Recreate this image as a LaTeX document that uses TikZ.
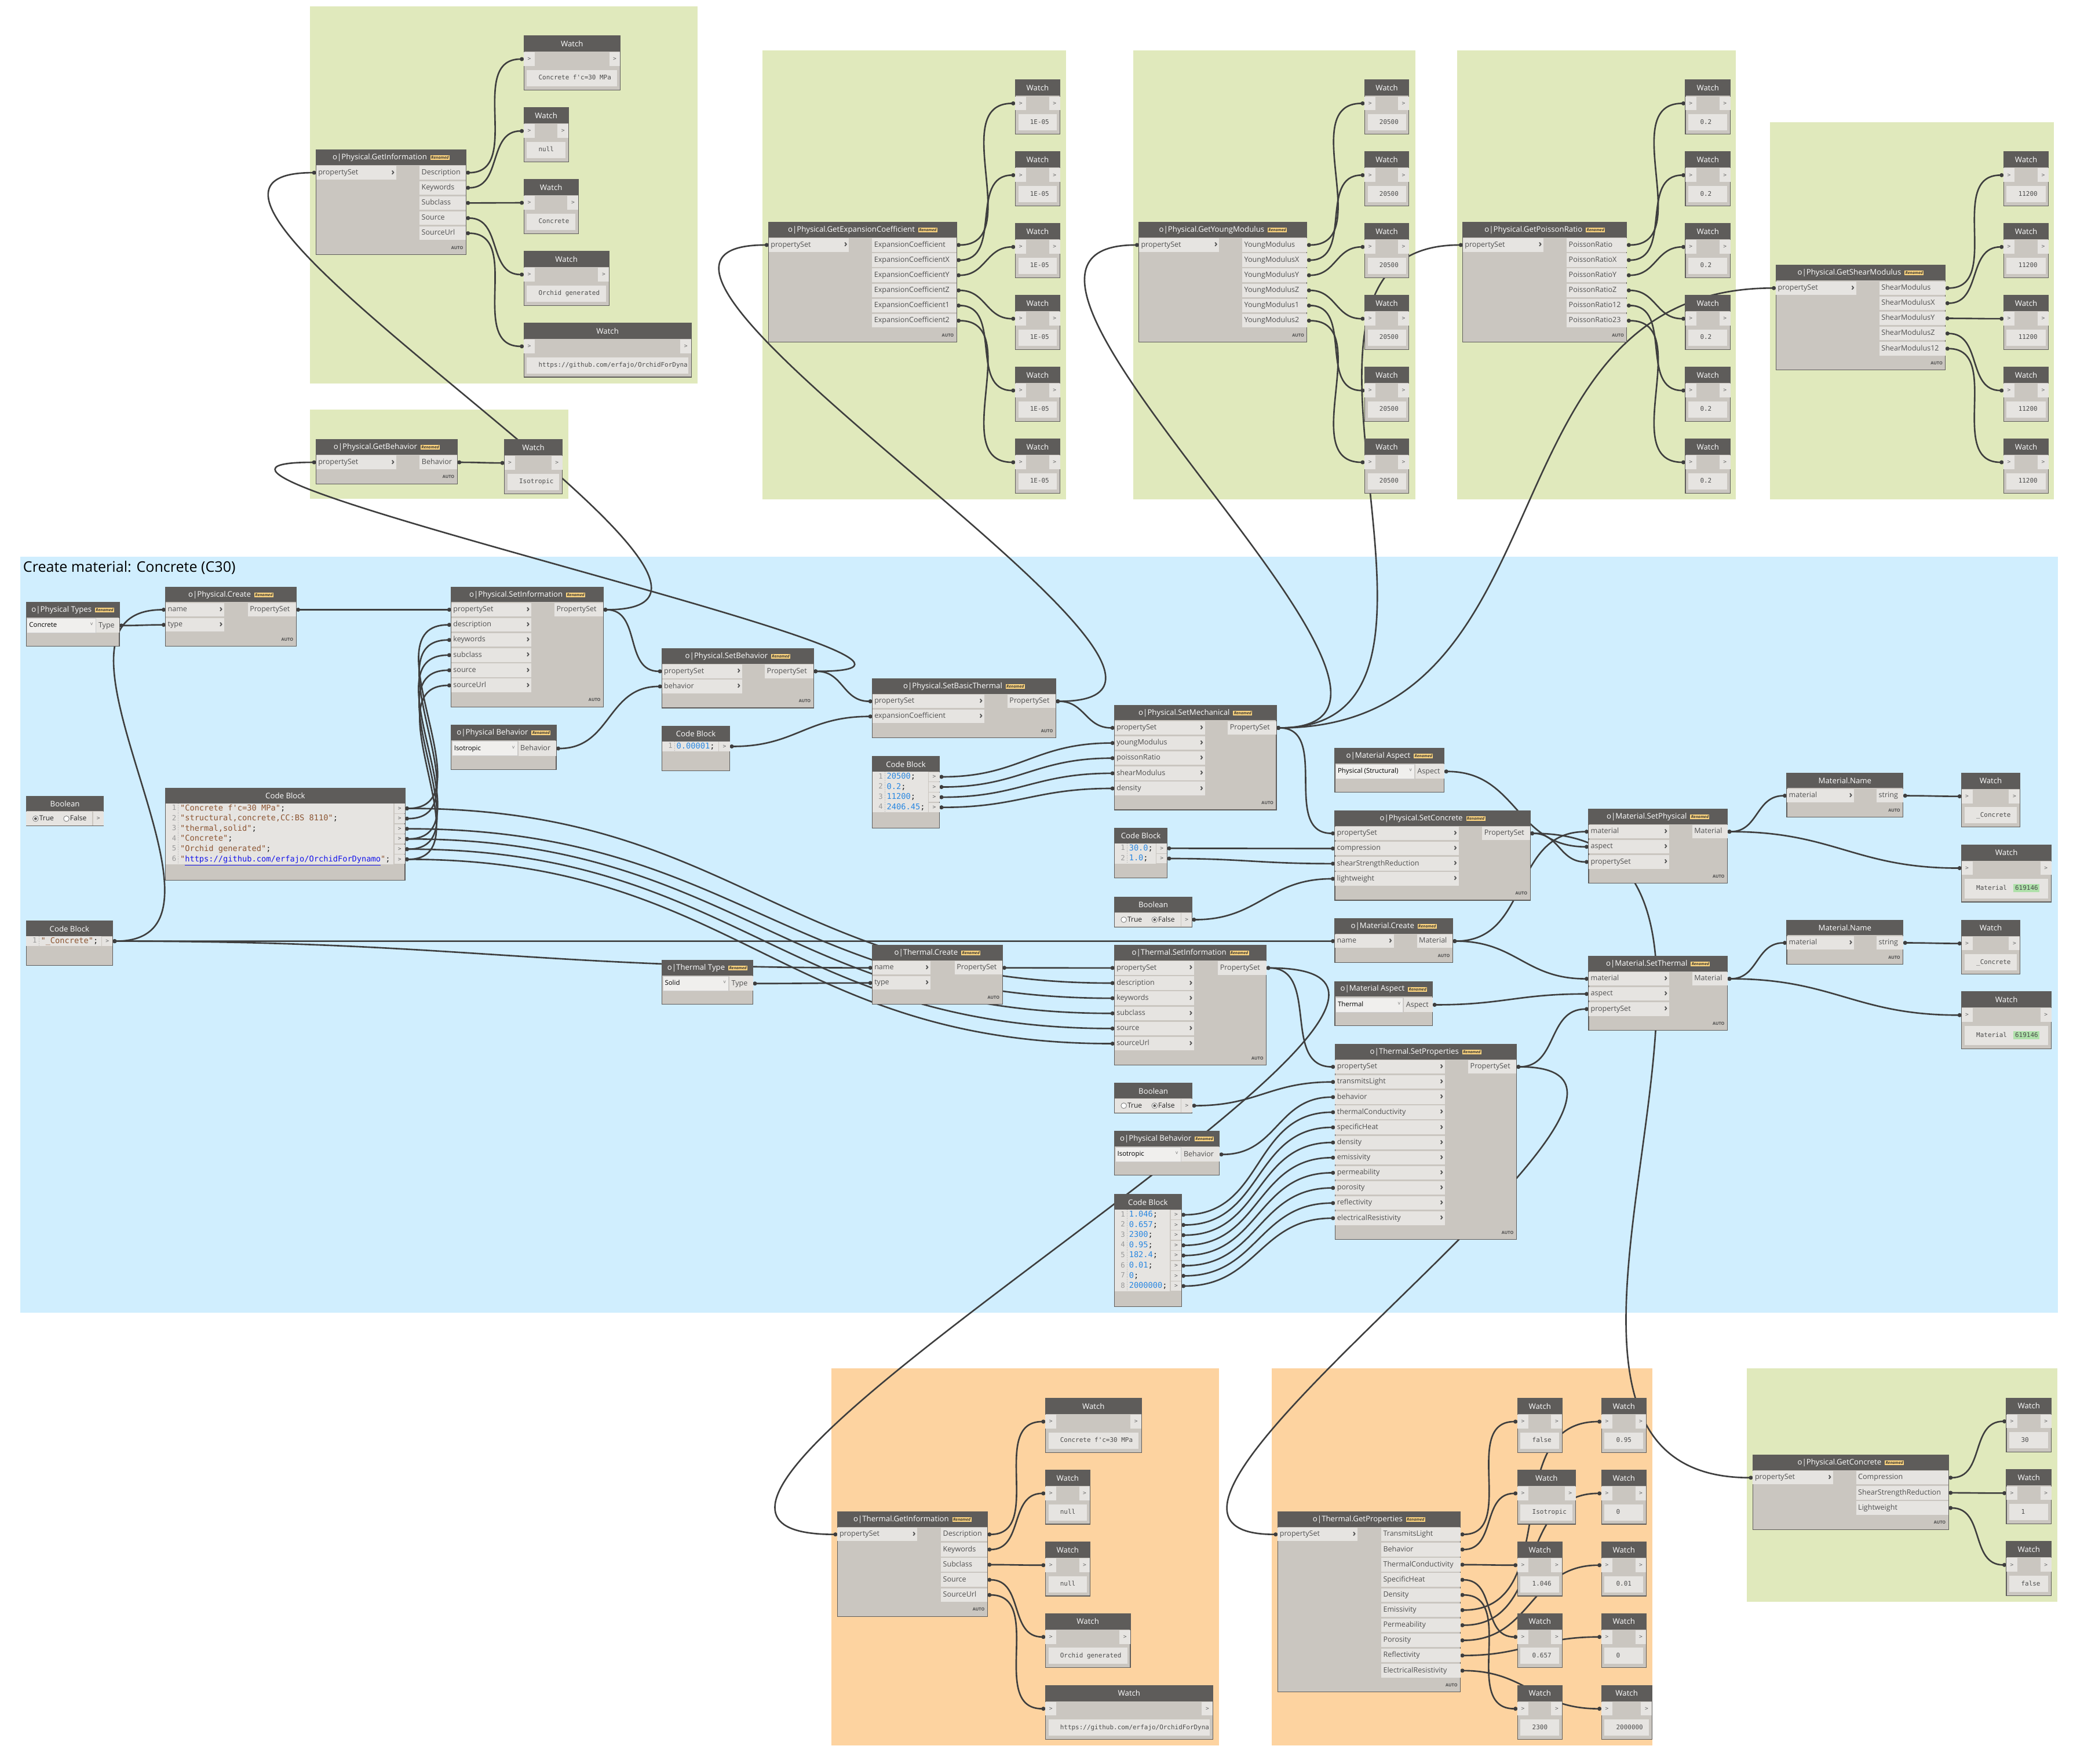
\documentclass[tikz,border=0pt]{standalone}
\usepackage{fontspec}
\setmainfont{Open Sans}
\newfontfamily\codefont{DejaVu Sans Mono}
\usetikzlibrary{calc,arrows.meta}

\definecolor{titlebar}{RGB}{94,92,90}
\definecolor{nodebody}{RGB}{202,198,192}
\definecolor{portbg}{RGB}{230,228,225}
\definecolor{dropbg}{RGB}{240,239,237}
\definecolor{portfg}{RGB}{80,80,80}
\definecolor{wirecol}{RGB}{62,62,62}
\definecolor{grpgreen}{RGB}{224,233,188}
\definecolor{grpblue}{RGB}{208,238,254}
\definecolor{grporange}{RGB}{253,211,160}
\definecolor{badgecol}{RGB}{255,214,128}
\definecolor{strcol}{RGB}{140,85,50}
\definecolor{numcol}{RGB}{40,135,225}
\definecolor{linkcol}{RGB}{20,20,235}
\definecolor{valgreen}{RGB}{175,225,170}

\pgfdeclarelayer{groups}
\pgfdeclarelayer{wires}
\pgfsetlayers{groups,wires,main}

\tikzset{
  body/.style={fill=nodebody,draw=titlebar,line width=0.5pt},
  bar/.style={fill=titlebar},
  portbox/.style={fill=portbg},
  dropbox/.style={fill=dropbg,draw=black!20,line width=0.3pt},
  titletext/.style={text=white,inner sep=0pt,font=\fontsize{5.8}{6}\selectfont},
  grouptitle/.style={inner sep=0pt,font=\fontsize{11}{13}\selectfont},
  portlabel/.style={text=portfg,inner sep=1.4pt,text height=4pt,text depth=1.2pt,font=\fontsize{5.5}{6}\selectfont},
  chev/.style={text=portfg,inner sep=1pt,font=\fontsize{7}{7}\selectfont\bfseries},
  autotext/.style={text=black!70,inner sep=0pt,font=\fontsize{3.2}{3}\selectfont\bfseries},
  smallgt/.style={text=black!60,inner sep=0pt,font=\codefont\fontsize{4.2}{4}\selectfont},
  watchtext/.style={text=black!70,inner sep=0pt,text height=3.6pt,text depth=1pt,font=\codefont\fontsize{4.8}{5}\selectfont},
  codetext/.style={text=black!85,inner sep=0pt,text height=4.4pt,text depth=1.2pt,font=\codefont\fontsize{6}{6}\selectfont},
  lineno/.style={text=black!40,inner sep=0pt,text height=4pt,text depth=1.2pt,font=\codefont\fontsize{5.4}{6}\selectfont},
  droptext/.style={text=black,inner sep=0pt,text height=3.8pt,text depth=1.1pt,font=\fontsize{5}{6}\selectfont},
  dropv/.style={text=black!55,inner sep=0pt,font=\fontsize{3.6}{4}\selectfont},
  booltext/.style={text=black!85,inner sep=0pt,text height=3.9pt,text depth=1.1pt,font=\fontsize{5.3}{6}\selectfont},
  radio/.style={fill=white,draw=black!55,line width=0.35pt},
  wire/.style={draw=wirecol,line width=1.15pt,arrows={Circle[length=3pt]-Circle[length=3pt]}},
}

\newcommand{\ren}{\hspace{2.6pt}\raisebox{0.4pt}{\fboxsep=0.6pt\colorbox{badgecol}{\fontsize{3}{3}\selectfont\bfseries\itshape\color{black!80}Renamed}}}
\newcommand{\cstr}[1]{\textcolor{strcol}{#1}}
\newcommand{\cnum}[1]{\textcolor{numcol}{#1}}

% node with lacing: name, x, y, width, rows, title
\newcommand{\dnode}[6]{%
  \coordinate (#1) at (#2,{#3});
  \coordinate (#1-r) at ({#2+#4},{#3});
  \path[body] (#2,{#3}) rectangle ({#2+#4},{#3+11.5+#5*11.45+10.5});
  \path[bar] (#2,{#3}) rectangle ({#2+#4},{#3+11.5});
  \node[titletext] at ({#2+#4/2},{#3+5.9}) {#6};
  \node[autotext,anchor=east] at ({#2+#4-2},{#3+11.5+#5*11.45+5.2}) {AUTO};
}
% inputs: node, label box width, labels
\newcommand{\dins}[3]{%
  \foreach \lab [count=\i] in {#3} {
    \path[portbox] ($(#1)+(0,{11.5+(\i-1)*11.45+0.6})$) rectangle ($(#1)+(#2,{11.5+\i*11.45-0.6})$);
    \coordinate (#1-i\i) at ($(#1)+(0,{11.5+(\i-0.5)*11.45})$);
    \node[portlabel,anchor=west] at (#1-i\i) {\lab};
    \node[chev,anchor=east] at ($(#1-i\i)+(#2,0)$) {\symbol{"203A}};
  }}
% outputs: node, label box width, labels
\newcommand{\douts}[3]{%
  \foreach \lab [count=\i] in {#3} {
    \path[portbox] ($(#1-r)+(-#2,{11.5+(\i-1)*11.45+0.6})$) rectangle ($(#1-r)+(0,{11.5+\i*11.45-0.6})$);
    \coordinate (#1-o\i) at ($(#1-r)+(0,{11.5+(\i-0.5)*11.45})$);
    \node[portlabel,anchor=west] at ($(#1-o\i)+(-#2,0)$) {\lab};
  }}
% watch: [height] name, x, y, width, value
\newcommand{\watch}[6][41]{%
  \path[body] (#3,{#4}) rectangle ({#3+#5},{#4+#1});
  \path[bar] (#3,{#4}) rectangle ({#3+#5},{#4+12});
  \node[titletext] at ({#3+#5/2},{#4+6}) {Watch};
  \path[portbox] (#3,{#4+12.5}) rectangle ({#3+8.3},{#4+22.9});
  \path[portbox] ({#3+#5-8.3},{#4+12.5}) rectangle ({#3+#5},{#4+22.9});
  \node[smallgt] at ({#3+4.1},{#4+17.7}) {>};
  \node[smallgt] at ({#3+#5-4.1},{#4+17.7}) {>};
  \path[portbox] ({#3+2.3},{#4+25.9}) rectangle ({#3+#5-2.3},{#4+#1-2.8});
  \node[watchtext,anchor=west] at ({#3+11},{#4+(#1+23.1)/2}) {#6};
  \coordinate (#2) at (#3,{#4+17.7});
}
% dropdown: name, x, y, width, dropdown width, title, value, output
\newcommand{\dropnode}[8]{%
  \path[body] (#2,{#3}) rectangle ({#2+#4},{#3+33.5});
  \path[bar] (#2,{#3}) rectangle ({#2+#4},{#3+11.5});
  \node[titletext] at ({#2+#4/2},{#3+5.9}) {#6};
  \path[dropbox] ({#2+0.6},{#3+12.2}) rectangle ({#2+#5},{#3+23.2});
  \node[droptext,anchor=west] at ({#2+2},{#3+17.7}) {#7};
  \node[dropv] at ({#2+#5-3},{#3+16.8}) {v};
  \path[portbox] ({#2+#5+0.6},{#3+12.2}) rectangle ({#2+#4},{#3+23.2});
  \node[portlabel,anchor=west] at ({#2+#5+0.6},{#3+17.9}) {#8};
  \coordinate (#1-o) at ({#2+#4},{#3+17.7});
}
% boolean: name, x, y, width, 1 = True
\newcommand{\boolnode}[5]{%
  \path[body] (#2,{#3}) rectangle ({#2+#4},{#3+22.6});
  \path[bar] (#2,{#3}) rectangle ({#2+#4},{#3+11.5});
  \node[titletext] at ({#2+#4/2},{#3+5.9}) {Boolean};
  \path[portbox] (#2,{#3+11.9}) rectangle ({#2+#4-8.6},{#3+22.3});
  \path[portbox] ({#2+#4-8},{#3+11.9}) rectangle ({#2+#4},{#3+22.3});
  \node[smallgt] at ({#2+#4-4},{#3+17.1}) {>};
  \draw[radio] ({#2+7},{#3+17.1}) circle (2.1pt);
  \node[booltext,anchor=west] at ({#2+9.6},{#3+17.3}) {True};
  \draw[radio] ({#2+30.3},{#3+17.1}) circle (2.1pt);
  \node[booltext,anchor=west] at ({#2+32.9},{#3+17.3}) {False};
  \fill[titlebar] ({#2+ifthenelse(#5==1,7,30.3)},{#3+17.1}) circle (1.1pt);
  \coordinate (#1-o) at ({#2+#4},{#3+17.1});
}
% code block: name, x, y, width, height, lines
\newcommand{\codeblock}[6]{%
  \path[body] (#2,{#3}) rectangle ({#2+#4},{#3+#5});
  \path[bar] (#2,{#3}) rectangle ({#2+#4},{#3+11.5});
  \node[titletext] at ({#2+#4/2},{#3+5.9}) {Code Block};
  \foreach \ctext [count=\i] in {#6} {
    \path[portbox] (#2,{#3+11.5+(\i-1)*7.7}) rectangle ({#2+#4-8.6},{#3+11.5+\i*7.7});
    \path[portbox] ({#2+#4-8},{#3+11.8+(\i-1)*7.7}) rectangle ({#2+#4},{#3+11.2+\i*7.7});
    \draw[densely dotted,black!35,line width=0.3pt] ({#2+9.4},{#3+11.5+(\i-1)*7.7}) -- ({#2+9.4},{#3+11.5+\i*7.7});
    \node[lineno,anchor=east] at ({#2+8.2},{#3+15.35+(\i-1)*7.7}) {\i};
    \node[codetext,anchor=west] at ({#2+10.8},{#3+15.35+(\i-1)*7.7}) {\ctext};
    \node[smallgt] at ({#2+#4-4},{#3+15.35+(\i-1)*7.7}) {>};
    \coordinate (#1-o\i) at ({#2+#4},{#3+15.35+(\i-1)*7.7});
  }}
% connector
\newcommand{\wire}[2]{%
  \draw[wire] let \p1=(#1), \p2=(#2), \n1={0.45*veclen(\x2-\x1,\y2-\y1)} in
    (\p1) .. controls +(\n1,0) and +(-\n1,0) .. (\p2);}

\begin{document}
\begin{tikzpicture}[x=1pt,y=-1pt]
\useasboundingbox (0,0) rectangle (1568,1334);

\begin{pgfonlayer}{groups}
\fill[white] (0,0) rectangle (1568,1334);
\fill[grpgreen] (234.4,4.9) rectangle (527.6,290.2);
\fill[grpgreen] (234.4,309.9) rectangle (429.8,377.5);
\fill[grpgreen] (576.7,38.2) rectangle (806.3,377.6);
\fill[grpgreen] (857.2,38.2) rectangle (1070.4,377.6);
\fill[grpgreen] (1102.2,38.2) rectangle (1313,377.6);
\fill[grpgreen] (1338.7,92.5) rectangle (1553.5,377.6);
\fill[grpblue] (15.4,421.3) rectangle (1556.4,993);
\fill[grporange] (628.9,1034.9) rectangle (921.9,1320.2);
\fill[grporange] (962,1034.9) rectangle (1249.7,1320.2);
\fill[grpgreen] (1321.3,1035) rectangle (1556.1,1211.7);
\end{pgfonlayer}

% information and behavior checks
\dnode{getinfo}{239.1}{113.4}{113.4}{5}{o|Physical.GetInformation\ren}
\dins{getinfo}{60.6}{propertySet}
\douts{getinfo}{35.2}{Description,Keywords,Subclass,Source,SourceUrl}
\watch{wgi1}{396.2}{27}{72.9}{Concrete f'c=30 MPa}
\watch{wgi2}{396.2}{81.4}{33.8}{null}
\watch{wgi3}{396.2}{135.7}{41.3}{Concrete}
\watch{wgi4}{396.2}{190}{64.5}{Orchid generated}
\watch{wgi5}{396.2}{244.3}{126.7}{https://github.com/erfajo/OrchidForDyna}
\dnode{getbeh}{239.1}{332.5}{106.8}{1}{o|Physical.GetBehavior\ren}
\dins{getbeh}{60.6}{propertySet}
\douts{getbeh}{28.5}{Behavior}
\watch{wgb}{381.5}{332.5}{43.8}{Isotropic}

% mechanical checks
\dnode{getexp}{581.4}{168.1}{142.2}{6}{o|Physical.GetExpansionCoefficient\ren}
\dins{getexp}{60.8}{propertySet}
\douts{getexp}{64}{ExpansionCoefficient,ExpansionCoefficientX,ExpansionCoefficientY,ExpansionCoefficientZ,ExpansionCoefficient1,ExpansionCoefficient2}
\dnode{getyoung}{861.5}{168.1}{127.1}{6}{o|Physical.GetYoungModulus\ren}
\dins{getyoung}{60.7}{propertySet}
\douts{getyoung}{49}{YoungModulus,YoungModulusX,YoungModulusY,YoungModulusZ,YoungModulus1,YoungModulus2}
\dnode{getpois}{1106.4}{168.1}{124.1}{6}{o|Physical.GetPoissonRatio\ren}
\dins{getpois}{61.1}{propertySet}
\douts{getpois}{45.5}{PoissonRatio,PoissonRatioX,PoissonRatioY,PoissonRatioZ,PoissonRatio12,PoissonRatio23}
\dnode{getshear}{1343.2}{200.7}{128.3}{5}{o|Physical.GetShearModulus\ren}
\dins{getshear}{60.8}{propertySet}
\douts{getshear}{50}{ShearModulus,ShearModulusX,ShearModulusY,ShearModulusZ,ShearModulus12}
\foreach \k in {1,...,6} {
  \watch{wex\k}{767.9}{60.5+54.3*(\k-1)}{33.9}{1E-05}
  \watch{wym\k}{1032.2}{60.5+54.3*(\k-1)}{33.5}{20500}
  \watch{wpr\k}{1274.8}{60.5+54.3*(\k-1)}{34}{0.2}
}
\foreach \k in {1,...,5} {\watch{wsm\k}{1515.5}{114.8+54.3*(\k-1)}{34}{11200}}

% create material
\node[grouptitle,anchor=west] (grptitle) at (17.3,429.6) {Create material: Concrete (C30)};
\dropnode{ptypes}{19.9}{455.5}{70.4}{52.4}{o|Physical Types\ren}{Concrete}{Type}
\dnode{pcreate}{125.3}{444}{98.7}{2}{o|Physical.Create\ren}
\dins{pcreate}{44.4}{name,type}
\douts{pcreate}{36.6}{PropertySet}
\dnode{psetinfo}{341.3}{444}{115.1}{6}{o|Physical.SetInformation\ren}
\dins{psetinfo}{60.7}{propertySet,description,keywords,subclass,source,sourceUrl}
\douts{psetinfo}{37}{PropertySet}
\dropnode{pbeh}{341.3}{548.5}{79.4}{50.1}{o|Physical Behavior\ren}{Isotropic}{Behavior}
\boolnode{bool1}{19.9}{602.2}{58.5}{1}
\codeblock{cbinfo}{125.3}{596.2}{181}{69.6}{{\cstr{"Concrete f'c=30 MPa"};},{\cstr{"structural,concrete,CC:BS 8110"};},{\cstr{"thermal,solid"};},{\cstr{"Concrete"};},{\cstr{"Orchid generated"};},{\cstr{"}\textcolor{linkcol}{\underline{https://github.com/erfajo/OrchidForDynamo}}\cstr{"};}}
\codeblock{cbname}{19.9}{696.6}{65.3}{33.6}{{\cstr{"\_Concrete"};}}
\dnode{psetbeh}{500.7}{490.6}{114.7}{2}{o|Physical.SetBehavior\ren}
\dins{psetbeh}{60.7}{propertySet,behavior}
\douts{psetbeh}{36.9}{PropertySet}
\codeblock{cbexp}{500.7}{549.3}{51.3}{33.6}{{\cnum{0.00001};}}
\dnode{psetbt}{659.8}{513.3}{138.8}{2}{o|Physical.SetBasicThermal\ren}
\dins{psetbt}{84.8}{propertySet,expansionCoefficient}
\douts{psetbt}{36.6}{PropertySet}
\codeblock{cbmech}{659.8}{572.3}{50.8}{54.1}{{\cnum{20500};},{\cnum{0.2};},{\cnum{11200};},{\cnum{2406.45};}}
\dnode{psetmech}{843}{533.4}{122.4}{5}{o|Physical.SetMechanical\ren}
\dins{psetmech}{68.4}{propertySet,youngModulus,poissonRatio,shearModulus,density}
\douts{psetmech}{36.7}{PropertySet}
\dropnode{maspphys}{1009.7}{565.9}{82.7}{60.2}{o|Material Aspect\ren}{Physical (Structural)}{Aspect}
\codeblock{cbconc}{843}{626.4}{39.8}{37.9}{{\cnum{30.0};},{\cnum{1.0};}}
\boolnode{bool2}{843}{678.6}{58.6}{0}
\dnode{psetconc}{1009.7}{613.2}{147.7}{4}{o|Physical.SetConcrete\ren}
\dins{psetconc}{93.6}{propertySet,compression,shearStrengthReduction,lightweight}
\douts{psetconc}{36.3}{PropertySet}
\dnode{mcreate}{1009.7}{694.7}{89.1}{1}{o|Material.Create\ren}
\dins{mcreate}{44.6}{name}
\douts{mcreate}{27.1}{Material}
\dnode{msetphys}{1201.6}{611.9}{105}{3}{o|Material.SetPhysical\ren}
\dins{msetphys}{60.9}{material,aspect,propertySet}
\douts{msetphys}{26.7}{Material}
\dnode{mname1}{1351.5}{584.7}{88}{1}{Material.Name}
\dins{mname1}{50.9}{material}
\douts{mname1}{20.1}{string}
\watch{wmn1}{1483.7}{584.7}{44.1}{\_Concrete}
\watch[43.3]{wmat1}{1483.7}{639}{67.9}{Material\hspace{5pt}{\fboxsep=1.2pt\colorbox{valgreen}{619146}}}
\dnode{msetth}{1201.6}{723.2}{105}{3}{o|Material.SetThermal\ren}
\dins{msetth}{60.9}{material,aspect,propertySet}
\douts{msetth}{26.7}{Material}
\dnode{mname2}{1351.5}{696}{88}{1}{Material.Name}
\dins{mname2}{50.9}{material}
\douts{mname2}{20.1}{string}
\watch{wmn2}{1483.7}{696}{44.1}{\_Concrete}
\watch[43.3]{wmat2}{1483.7}{750.2}{67.9}{Material\hspace{5pt}{\fboxsep=1.2pt\colorbox{valgreen}{619146}}}
\dropnode{maspth}{1009.7}{742.4}{73.9}{51.6}{o|Material Aspect\ren}{Thermal}{Aspect}
\dropnode{ttype}{500.7}{726.3}{68.8}{50.4}{o|Thermal Type\ren}{Solid}{Type}
\dnode{tcreate}{659.8}{714.9}{98.4}{2}{o|Thermal.Create\ren}
\dins{tcreate}{44}{name,type}
\douts{tcreate}{36.1}{PropertySet}
\dnode{tsetinfo}{843}{715}{114.8}{6}{o|Thermal.SetInformation\ren}
\dins{tsetinfo}{60.3}{propertySet,description,keywords,subclass,source,sourceUrl}
\douts{tsetinfo}{36.6}{PropertySet}
\dnode{tsetprop}{1009.8}{789.8}{137.2}{11}{o|Thermal.SetProperties\ren}
\dins{tsetprop}{83.1}{propertySet,transmitsLight,behavior,thermalConductivity,specificHeat,density,emissivity,permeability,porosity,reflectivity,electricalResistivity}
\douts{tsetprop}{36.5}{PropertySet}
\boolnode{bool3}{843}{819.3}{58.7}{0}
\dropnode{pbeh2}{843}{855.6}{79.3}{50.1}{o|Physical Behavior\ren}{Isotropic}{Behavior}
\codeblock{cbtherm}{843}{903.6}{50.6}{84.8}{{\cnum{1.046};},{\cnum{0.657};},{\cnum{2300};},{\cnum{0.95};},{\cnum{182.4};},{\cnum{0.01};},{\cnum{0};},{\cnum{2000000};}}

% thermal checks
\dnode{tgetinfo}{633.4}{1143.5}{113.5}{5}{o|Thermal.GetInformation\ren}
\dins{tgetinfo}{60.5}{propertySet}
\douts{tgetinfo}{35.2}{Description,Keywords,Subclass,Source,SourceUrl}
\watch{wti1}{790.7}{1057.7}{72.7}{Concrete f'c=30 MPa}
\watch{wti2}{790.7}{1112}{33.8}{null}
\watch{wti3}{790.7}{1166.3}{33.8}{null}
\watch{wti4}{790.7}{1220.6}{64.3}{Orchid generated}
\watch{wti5}{790.7}{1274.9}{126.7}{https://github.com/erfajo/OrchidForDyna}
\dnode{tgetprop}{966.4}{1143.5}{138.2}{10}{o|Thermal.GetProperties\ren}
\dins{tgetprop}{60.5}{propertySet}
\douts{tgetprop}{59.9}{TransmitsLight,Behavior,ThermalConductivity,SpecificHeat,Density,Emissivity,Permeability,Porosity,Reflectivity,ElectricalResistivity}
\watch{wtp1}{1147.8}{1057.7}{33.8}{false}
\watch{wtp2}{1147.8}{1112}{44}{Isotropic}
\watch{wtp3}{1147.8}{1166.3}{33.8}{1.046}
\watch{wtp4}{1147.8}{1220.6}{33.8}{0.657}
\watch{wtp5}{1147.8}{1274.9}{33.8}{2300}
\watch{wtp6}{1211.3}{1057.7}{33.9}{0.95}
\watch{wtp7}{1211.3}{1112}{33.9}{0}
\watch{wtp8}{1211.3}{1166.3}{33.9}{0.01}
\watch{wtp9}{1211.3}{1220.6}{33.9}{0}
\watch{wtp10}{1211.3}{1274.9}{38.2}{2000000}

% concrete checks
\dnode{pgetconc}{1325.8}{1100.6}{148.1}{3}{o|Physical.GetConcrete\ren}
\dins{pgetconc}{60.7}{propertySet}
\douts{pgetconc}{70}{Compression,ShearStrengthReduction,Lightweight}
\watch{wgc1}{1517.6}{1057.5}{34}{30}
\watch{wgc2}{1517.6}{1111.8}{34}{1}
\watch{wgc3}{1517.6}{1166.1}{34}{false}

\begin{pgfonlayer}{wires}
% physical chain
\wire{ptypes-o}{pcreate-i2}
\wire{cbname-o1}{pcreate-i1}
\wire{cbname-o1}{mcreate-i1}
\wire{cbname-o1}{tcreate-i1}
\wire{pcreate-o1}{psetinfo-i1}
\foreach \a/\b in {1/2,2/3,4/4,5/5,6/6} {\wire{cbinfo-o\a}{psetinfo-i\b}}
\wire{psetinfo-o1}{psetbeh-i1}
\wire{psetinfo-o1}{getinfo-i1}
\wire{pbeh-o}{psetbeh-i2}
\wire{psetbeh-o1}{psetbt-i1}
\wire{psetbeh-o1}{getbeh-i1}
\wire{cbexp-o1}{psetbt-i2}
\wire{psetbt-o1}{psetmech-i1}
\wire{psetbt-o1}{getexp-i1}
\foreach \a in {1,...,4} {\pgfmathtruncatemacro\b{\a+1}\wire{cbmech-o\a}{psetmech-i\b}}
\foreach \nm in {psetconc,getyoung,getpois,getshear} {\wire{psetmech-o1}{\nm-i1}}
\wire{cbconc-o1}{psetconc-i2}
\wire{cbconc-o2}{psetconc-i3}
\wire{bool2-o}{psetconc-i4}
\wire{mcreate-o1}{msetphys-i1}
\wire{mcreate-o1}{msetth-i1}
\wire{maspphys-o}{msetphys-i2}
\wire{psetconc-o1}{msetphys-i3}
\wire{psetconc-o1}{pgetconc-i1}
\wire{msetphys-o1}{mname1-i1}
\wire{msetphys-o1}{wmat1}
\wire{mname1-o1}{wmn1}
% thermal chain
\wire{ttype-o}{tcreate-i2}
\wire{tcreate-o1}{tsetinfo-i1}
\foreach \a/\b in {1/2,3/3,4/4,5/5,6/6} {\wire{cbinfo-o\a}{tsetinfo-i\b}}
\wire{tsetinfo-o1}{tsetprop-i1}
\wire{tsetinfo-o1}{tgetinfo-i1}
\wire{bool3-o}{tsetprop-i2}
\wire{pbeh2-o}{tsetprop-i3}
\foreach \a in {1,...,8} {\pgfmathtruncatemacro\b{\a+3}\wire{cbtherm-o\a}{tsetprop-i\b}}
\wire{tsetprop-o1}{msetth-i3}
\wire{tsetprop-o1}{tgetprop-i1}
\wire{maspth-o}{msetth-i2}
\wire{msetth-o1}{mname2-i1}
\wire{msetth-o1}{wmat2}
\wire{mname2-o1}{wmn2}
% watches
\wire{getbeh-o1}{wgb}
\foreach \k in {1,...,5} {\wire{getinfo-o\k}{wgi\k}\wire{tgetinfo-o\k}{wti\k}\wire{getshear-o\k}{wsm\k}}
\foreach \k in {1,...,6} {\wire{getexp-o\k}{wex\k}\wire{getyoung-o\k}{wym\k}\wire{getpois-o\k}{wpr\k}}
\foreach \k in {1,...,10} {\wire{tgetprop-o\k}{wtp\k}}
\foreach \k in {1,2,3} {\wire{pgetconc-o\k}{wgc\k}}
\end{pgfonlayer}
\end{tikzpicture}
\end{document}
